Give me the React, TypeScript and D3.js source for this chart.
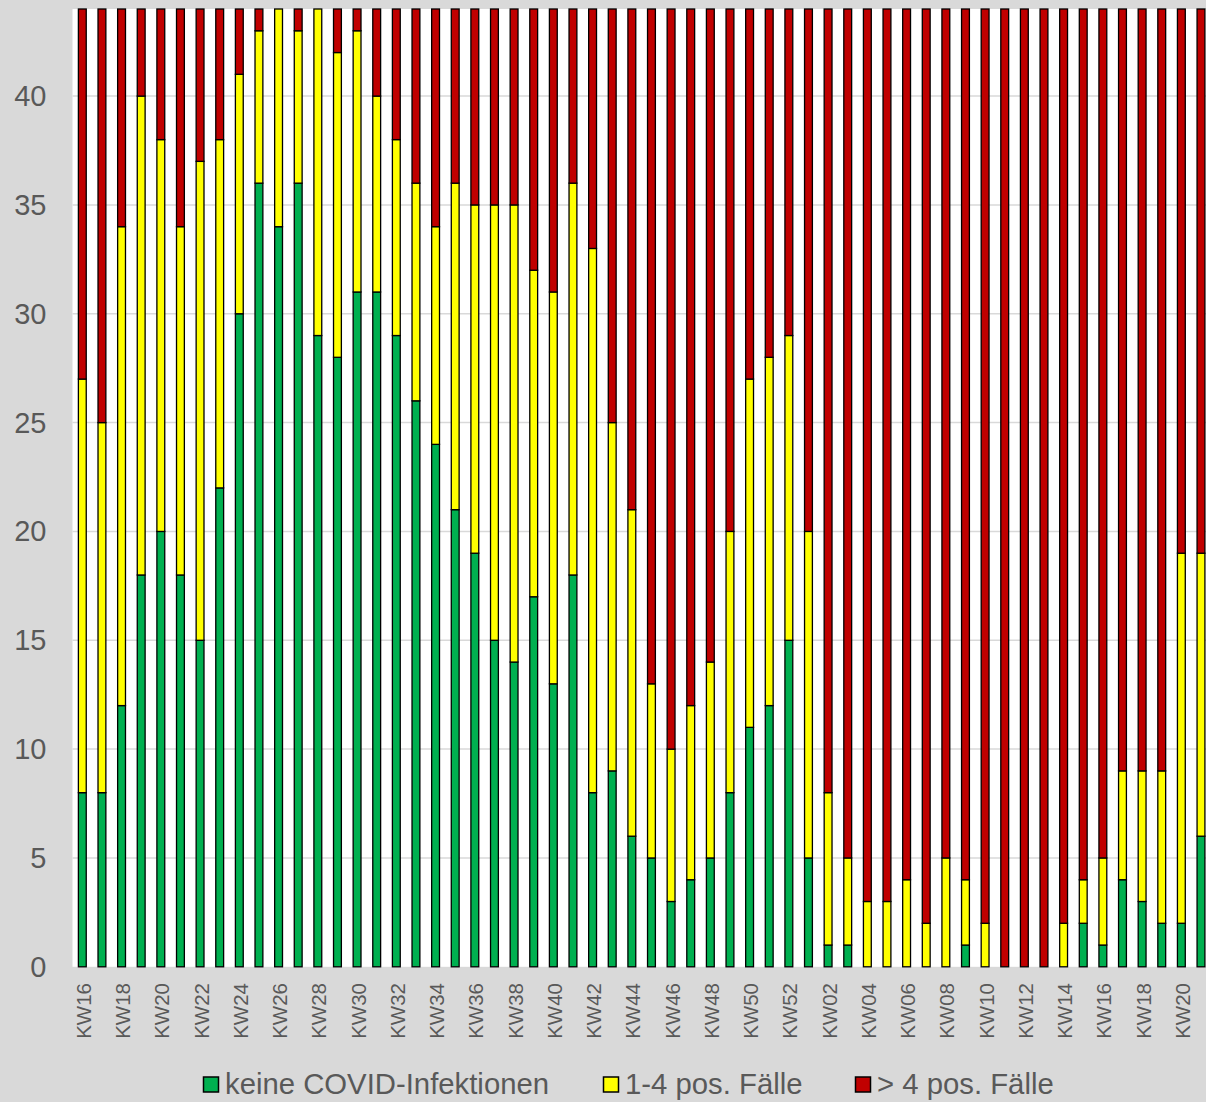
import React from "react";
import * as d3 from "d3";

const weeks = [
  "KW16","KW17","KW18","KW19","KW20","KW21","KW22","KW23","KW24","KW25",
  "KW26","KW27","KW28","KW29","KW30","KW31","KW32","KW33","KW34","KW35",
  "KW36","KW37","KW38","KW39","KW40","KW41","KW42","KW43","KW44","KW45",
  "KW46","KW47","KW48","KW49","KW50","KW51","KW52","KW53",
  "KW02","KW03","KW04","KW05","KW06","KW07","KW08","KW09","KW10","KW11",
  "KW12","KW13","KW14","KW15","KW16 ","KW17 ","KW18 ","KW19 ","KW20 ","KW21 ",
];

const keineInfektionen = [
  8,8,12,18,20,18,15,22,30,36,
  34,36,29,28,31,31,29,26,24,21,
  19,15,14,17,13,18,8,9,6,5,
  3,4,5,8,11,12,15,5,
  1,1,0,0,0,0,0,1,0,0,
  0,0,0,2,1,4,3,2,2,6,
];

const einsBisVier = [
  19,17,22,22,18,16,22,16,11,7,
  10,7,15,14,12,9,9,10,10,15,
  16,20,21,15,18,18,25,16,15,8,
  7,8,9,12,16,16,14,15,
  7,4,3,3,4,2,5,3,2,0,
  0,0,2,2,4,5,6,7,17,13,
];

const ueberVier = [
  17,19,10,4,6,10,7,6,3,1,
  0,1,0,2,1,4,6,8,10,8,
  9,9,9,12,13,8,11,19,23,31,
  34,32,30,24,17,16,15,24,
  36,39,41,41,40,42,39,40,42,44,
  44,44,42,40,39,35,35,35,25,25,
];

const seriesNames = ["keine COVID-Infektionen", "1-4 pos. Fälle", "> 4 pos. Fälle"];
const seriesColors = ["#00b050", "#ffff00", "#c00000"];
const yTicks = [0, 5, 10, 15, 20, 25, 30, 35, 40];

const W = 1206;
const H = 1102;
const plotLeft = 72.5;
const plotRight = 1210.8;
const plotTop = 9;
const plotBottom = 966.8;

export default function App() {
  const x = d3
    .scaleBand<string>()
    .domain(weeks)
    .range([plotLeft, plotRight])
    .paddingInner(0.6)
    .paddingOuter(0.3);
  const y = d3.scaleLinear().domain([0, 44]).range([plotBottom, plotTop]);

  const rows = weeks.map((w, i) => ({
    week: w,
    a: keineInfektionen[i],
    b: einsBisVier[i],
    c: ueberVier[i],
  }));
  const stack = d3.stack<any>().keys(["a", "b", "c"]);
  const layers = stack(rows);

  const font = "'Liberation Sans', Arial, sans-serif";
  const textColor = "#595959";

  const legendItems = [
    { boxX: 203.5, textX: 225 },
    { boxX: 603.5, textX: 625 },
    { boxX: 855.5, textX: 877 },
  ];

  return (
    <div style={{ position: "absolute", left: 0, top: 0 }}>
      <svg width={W} height={H} style={{ display: "block" }}>
        <rect x={0} y={0} width={W} height={H} fill="#d9d9d9" />
        <rect
          x={plotLeft}
          y={plotTop}
          width={plotRight - plotLeft}
          height={plotBottom - plotTop}
          fill="#ffffff"
        />
        {yTicks.map((t) =>
          t === 0 ? null : (
            <line
              key={"g" + t}
              x1={plotLeft}
              x2={plotRight}
              y1={y(t)}
              y2={y(t)}
              stroke="#d9d9d9"
              strokeWidth={1.5}
            />
          )
        )}
        {layers.map((layer, li) => (
          <g key={"l" + li} fill={seriesColors[li]} stroke="#000000" strokeWidth={1.3}>
            {layer.map((d, i) => {
              const h = y(d[0]) - y(d[1]);
              if (h <= 0) return null;
              return (
                <rect
                  key={i}
                  x={x(weeks[i])!}
                  y={y(d[1])}
                  width={x.bandwidth()}
                  height={h}
                />
              );
            })}
          </g>
        ))}
        {yTicks.map((t) => (
          <text
            key={"yt" + t}
            x={46.5}
            y={y(t)}
            textAnchor="end"
            dominantBaseline="central"
            fontFamily={font}
            fontSize={29}
            fill={textColor}
          >
            {t}
          </text>
        ))}
        {weeks.map((w, i) =>
          i % 2 === 0 ? (
            <text
              key={"xt" + i}
              transform={`translate(${x(w)! + x.bandwidth() / 2 + 1},983) rotate(-90)`}
              textAnchor="end"
              dominantBaseline="central"
              fontFamily={font}
              fontSize={20.5}
              fill={textColor}
            >
              {w.trim()}
            </text>
          ) : null
        )}
        {seriesNames.map((name, i) => (
          <g key={"lg" + i}>
            <rect
              x={legendItems[i].boxX}
              y={1077}
              width={15}
              height={15}
              fill={seriesColors[i]}
              stroke="#000000"
              strokeWidth={1.5}
            />
            <text
              x={legendItems[i].textX}
              y={1094}
              fontFamily={font}
              fontSize={29.3}
              fill={textColor}
            >
              {name}
            </text>
          </g>
        ))}
      </svg>
    </div>
  );
}
